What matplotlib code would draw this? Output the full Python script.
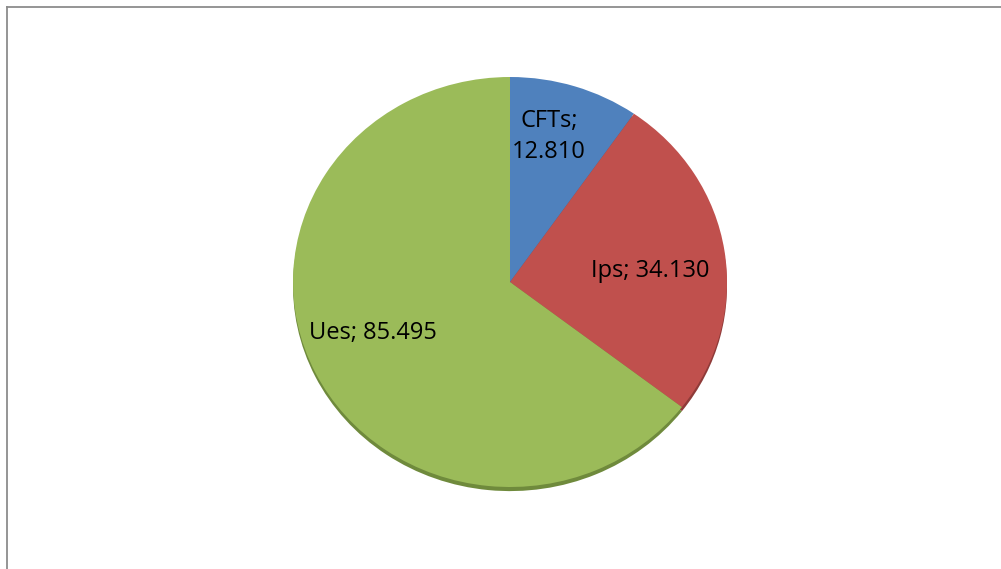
import matplotlib
matplotlib.use("Agg")
import matplotlib.pyplot as plt
from matplotlib.lines import Line2D

# slice data
names = ["CFTs", "Ips", "Ues"]
values = [12.810, 34.130, 85.495]
colors = ["#4F81BD", "#C0504D", "#9BBB59"]
shadow_colors = ["#3b618f", "#8f3b39", "#6f8a3c"]

plt.rcParams['font.family'] = ['Open Sans', 'DejaVu Sans']

fig = plt.figure(figsize=(10.01, 5.69), dpi=100)
W, H = 1001, 569

# pie centre / radii in pixels (slightly squashed, like the 3D tilt)
cx, cy, rx, ry = 510, 282, 217, 205
ax = fig.add_axes([(cx - rx) / W, (H - cy - ry) / H, 2 * rx / W, 2 * ry / H])

# shadow underneath
ax.pie(values, colors=shadow_colors, startangle=90, counterclock=False,
       center=(0, -0.02), radius=1.0, wedgeprops=dict(linewidth=0))
wedges, _ = ax.pie(values, colors=colors, startangle=90, counterclock=False,
                   radius=1.0, wedgeprops=dict(linewidth=0))
ax.set_aspect('auto')
ax.set_xlim(-1, 1)
ax.set_ylim(-1, 1)
ax.axis('off')

# labels
label_pos = [(0.18, 0.71), (0.645, 0.055), (-0.63, -0.25)]
label_text = [f"{names[0]};\n{values[0]:.3f}",
              f"{names[1]}; {values[1]:.3f}",
              f"{names[2]}; {values[2]:.3f}"]
for (x, y), t in zip(label_pos, label_text):
    ax.text(x, y, t, ha='center', va='center', fontsize=17, color='black',
            linespacing=1.4)

# chart frame (left and top edges visible)
fx = 6.5 / W
fy = 1 - 6.5 / H
fig.add_artist(Line2D([fx, fx], [0, fy], transform=fig.transFigure,
                      color='#8c8c8c', lw=1.3))
fig.add_artist(Line2D([fx, 1], [fy, fy], transform=fig.transFigure,
                      color='#8c8c8c', lw=1.3))

fig.savefig("out.png", dpi=100)
